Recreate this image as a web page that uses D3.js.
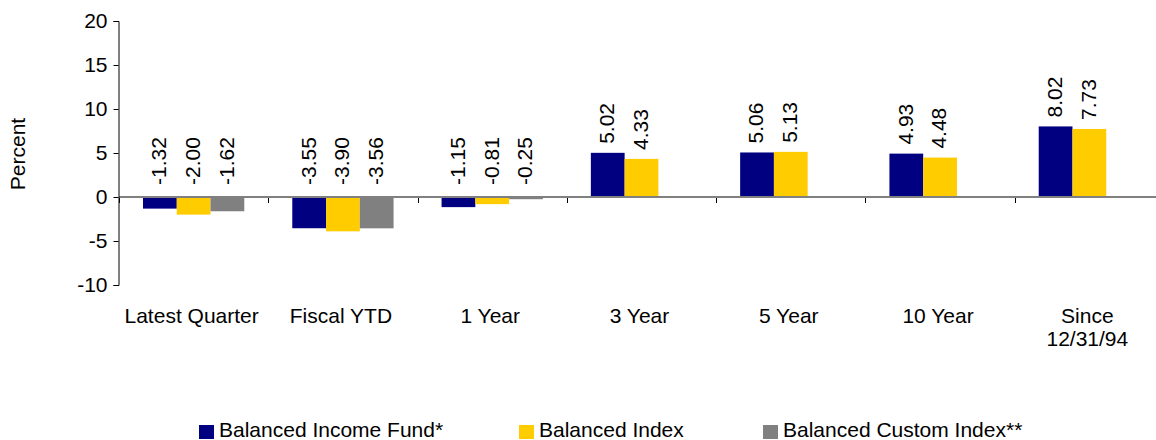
<!DOCTYPE html>
<html>
<head>
<meta charset="utf-8">
<script src="https://cdn.jsdelivr.net/npm/d3@7"></script>
<style>
  body { margin: 0; background: #fff; }
  svg { display: block; font-family: Arial, "Liberation Sans", sans-serif; }
  text { fill: #000; }
</style>
</head>
<body>
<div id="chart"></div>
<script>
// Chart data
const categories = ["Latest Quarter", "Fiscal YTD", "1 Year", "3 Year", "5 Year", "10 Year", "Since|12/31/94"];
const seriesNames = ["Balanced Income Fund*", "Balanced Index", "Balanced Custom Index**"];
const fundValues = [-1.32, -3.55, -1.15, 5.02, 5.06, 4.93, 8.02];
const indexValues = [-2.00, -3.90, -0.81, 4.33, 5.13, 4.48, 7.73];
const customValues = [-1.62, -3.56, -0.25, null, null, null, null];
const yTicks = [-10, -5, 0, 5, 10, 15, 20];
const colors = ["#000080", "#FFCC00", "#808080"];

const width = 1156,
  height = 440;
const fontSize = 21;
const seriesValues = [fundValues, indexValues, customValues];

const svg = d3
  .select("#chart")
  .append("svg")
  .attr("width", width)
  .attr("height", height);

const x0 = d3.scaleBand().domain(categories).range([119, 1164]);
const x1 = d3
  .scaleBand()
  .domain(d3.range(3))
  .range([24, x0.bandwidth() - 24]);
const y = d3.scaleLinear().domain([-10, 20]).range([285, 21]);

// flatten to bar records
const bars = [];
categories.forEach((cat, i) => {
  seriesValues.forEach((vals, s) => {
    if (vals[i] !== null) bars.push({ cat: cat, s: s, v: vals[i] });
  });
});

// Bars
svg
  .append("g")
  .selectAll("rect")
  .data(bars)
  .join("rect")
  .attr("x", (d) => x0(d.cat) + x1(d.s))
  .attr("y", (d) => y(Math.max(0, d.v)))
  .attr("width", x1.bandwidth())
  .attr("height", (d) => Math.abs(y(d.v) - y(0)))
  .attr("fill", (d) => colors[d.s]);

// Zero line with category ticks
const zero = y(0);
svg
  .append("line")
  .attr("x1", x0.range()[0])
  .attr("x2", width)
  .attr("y1", zero)
  .attr("y2", zero)
  .attr("stroke", "#808080")
  .attr("stroke-width", 2);

svg
  .append("g")
  .selectAll("line")
  .data(categories)
  .join("line")
  .attr("x1", (d) => Math.round(x0(d)) + 0.5)
  .attr("x2", (d) => Math.round(x0(d)) + 0.5)
  .attr("y1", zero + 1)
  .attr("y2", zero + 6)
  .attr("stroke", "#000");

// Y axis
const yAxis = svg
  .append("g")
  .attr("transform", "translate(118.5,0)")
  .call(
    d3
      .axisLeft(y)
      .tickValues(yTicks)
      .tickFormat((d) => String(d))
      .tickSize(5)
      .tickPadding(6)
  );
yAxis.select(".domain").attr("stroke", "#000");
yAxis.selectAll(".tick line").attr("stroke", "#000");
yAxis
  .selectAll(".tick text")
  .attr("font-size", fontSize)
  .attr("font-family", "Arial, 'Liberation Sans', sans-serif")
  .attr("fill", "#000");

svg
  .append("text")
  .attr("transform", "translate(25,154) rotate(-90)")
  .attr("text-anchor", "middle")
  .attr("font-size", fontSize)
  .text("Percent");

// Category labels
const catLabels = svg
  .append("g")
  .selectAll("text")
  .data(categories)
  .join("text")
  .attr("x", (d) => x0(d) + x0.bandwidth() / 2 - 2)
  .attr("y", 323)
  .attr("text-anchor", "middle")
  .attr("font-size", fontSize);
catLabels
  .selectAll("tspan")
  .data((d) => d.split("|"))
  .join("tspan")
  .attr("x", function () {
    return d3.select(this.parentNode).attr("x");
  })
  .attr("dy", (d, i) => (i === 0 ? 0 : 23))
  .text((d) => d);

// Value labels (rotated)
svg
  .append("g")
  .selectAll("text")
  .data(bars)
  .join("text")
  .attr("transform", (d) => {
    const cx = x0(d.cat) + x1(d.s) + x1.bandwidth() / 2 - 1;
    const ty = d.v >= 0 ? y(d.v) - 9 : zero - 12;
    return `translate(${cx},${ty}) rotate(-90)`;
  })
  .attr("dy", "0.35em")
  .attr("font-size", fontSize)
  .text((d) => d.v.toFixed(2));

// Legend
const legendX = [199, 519, 763];
const legend = svg
  .append("g")
  .selectAll("g")
  .data(seriesNames)
  .join("g")
  .attr("transform", (d, i) => `translate(${legendX[i]},0)`);
legend
  .append("rect")
  .attr("y", 425)
  .attr("width", 15)
  .attr("height", 14)
  .attr("fill", (d, i) => colors[i]);
legend
  .append("text")
  .attr("x", 20)
  .attr("y", 437)
  .attr("font-size", fontSize)
  .text((d) => d);
</script>
</body>
</html>
